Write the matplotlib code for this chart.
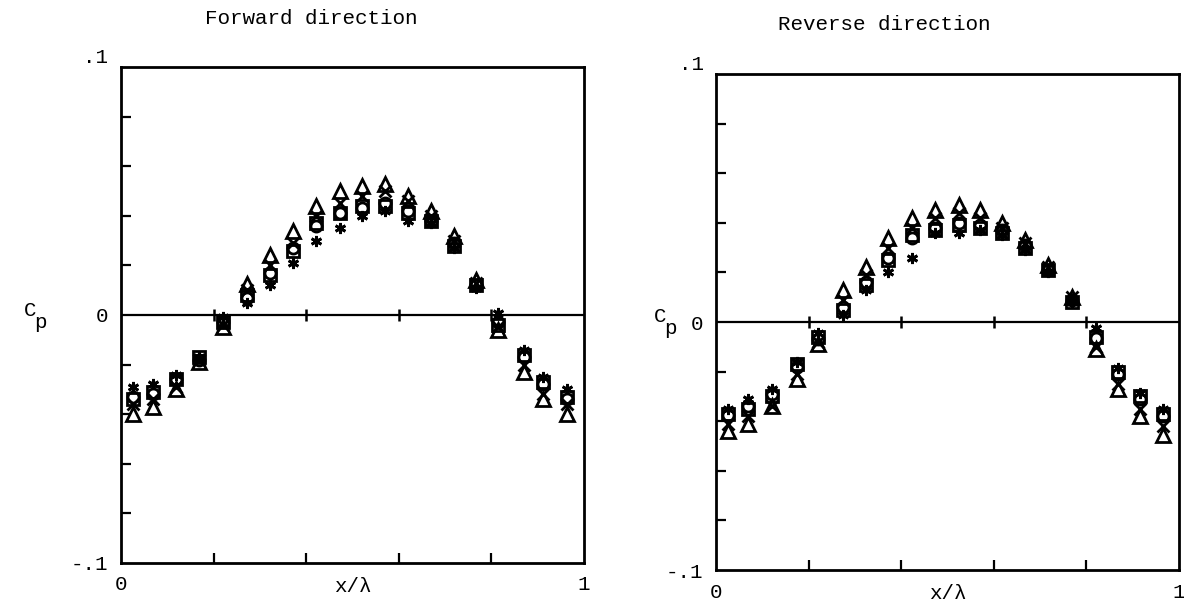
import numpy as np
import matplotlib
matplotlib.use("Agg")
import matplotlib.pyplot as plt

plt.rcParams['font.family'] = ['Liberation Mono', 'DejaVu Sans Mono']

# pressure coefficient along one wavelength, five runs per direction
x_fwd = [0.025, 0.070, 0.118, 0.168, 0.220, 0.272, 0.322, 0.372, 0.422, 0.473,
         0.520, 0.570, 0.620, 0.670, 0.720, 0.767, 0.815, 0.870, 0.912, 0.963]
fwd_tri = [-0.040, -0.037, -0.030, -0.019, -0.005, 0.0125, 0.024, 0.034, 0.044, 0.050,
           0.052, 0.053, 0.048, 0.042, 0.032, 0.014, -0.006, -0.023, -0.034, -0.040]
fwd_cross = [-0.036, -0.034, -0.029, -0.018, -0.004, 0.010, 0.020, 0.029, 0.040, 0.045,
             0.048, 0.050, 0.046, 0.040, 0.030, 0.013, -0.005, -0.020, -0.032, -0.036]
fwd_circ = [-0.033, -0.032, -0.026, -0.018, -0.003, 0.007, 0.017, 0.027, 0.036, 0.041,
            0.043, 0.045, 0.042, 0.038, 0.029, 0.012, -0.003, -0.017, -0.028, -0.034]
fwd_sq = [-0.034, -0.031, -0.026, -0.017, -0.003, 0.008, 0.016, 0.026, 0.037, 0.041,
          0.044, 0.044, 0.041, 0.038, 0.028, 0.012, -0.004, -0.016, -0.027, -0.033]
fwd_star = [-0.029, -0.028, -0.024, -0.017, -0.001, 0.005, 0.012, 0.021, 0.030, 0.035,
            0.040, 0.042, 0.038, 0.037, 0.027, 0.011, 0.001, -0.014, -0.025, -0.030]

x_rev = [0.026, 0.069, 0.120, 0.174, 0.220, 0.275, 0.324, 0.372, 0.424, 0.473,
         0.525, 0.570, 0.618, 0.668, 0.718, 0.768, 0.820, 0.868, 0.915, 0.965]
rev_tri = [-0.044, -0.041, -0.034, -0.023, -0.009, 0.013, 0.022, 0.034, 0.042, 0.045,
           0.047, 0.045, 0.040, 0.033, 0.023, 0.010, -0.011, -0.027, -0.038, -0.0455]
rev_cross = [-0.041, -0.038, -0.034, -0.021, -0.008, 0.009, 0.019, 0.030, 0.038, 0.042,
             0.044, 0.042, 0.038, 0.032, 0.022, 0.010, -0.010, -0.025, -0.035, -0.042]
rev_circ = [-0.0375, -0.034, -0.029, -0.018, -0.007, 0.006, 0.016, 0.026, 0.034, 0.038,
            0.040, 0.039, 0.037, 0.031, 0.021, 0.009, -0.0065, -0.021, -0.031, -0.038]
rev_sq = [-0.037, -0.035, -0.030, -0.017, -0.006, 0.005, 0.015, 0.025, 0.035, 0.037,
          0.039, 0.038, 0.036, 0.030, 0.021, 0.008, -0.006, -0.020, -0.030, -0.037]
rev_star = [-0.035, -0.031, -0.027, -0.016, -0.0045, 0.003, 0.013, 0.020, 0.026, 0.036,
            0.036, 0.037, 0.035, 0.029, 0.020, 0.008, -0.0025, -0.0185, -0.0285, -0.035]

markers = ['^', 'x', 'o', 's', (6, 2, 0)]
sizes = [10, 9, 8, 8, 8]
FS = 15

W, H = 1184, 612
fig = plt.figure(figsize=(W / 100, H / 100), dpi=100)


def panel(rect, title, tpos, cpos, xs, series):
    ax = fig.add_axes(rect)
    for ys, m, s in zip(series, markers, sizes):
        ax.plot(xs, ys, linestyle='none', marker=m, markersize=s,
                markerfacecolor='none', markeredgecolor='black',
                markeredgewidth=2.0, color='black', clip_on=False)
    ax.set_xlim(0, 1)
    ax.set_ylim(-0.1, 0.1)
    ax.axhline(0, color='black', lw=1.6)
    ax.plot([0.2, 0.4, 0.6, 0.8], [0, 0, 0, 0], linestyle='none',
            marker='|', markersize=9, markeredgewidth=1.8, color='black')

    ax.set_yticks([-0.1, 0, 0.1])
    ax.set_yticklabels(['-.1', '0', '.1'], fontsize=FS)
    ax.get_yticklabels()[2].set_va('bottom')
    ax.set_yticks([-0.08, -0.06, -0.04, -0.02, 0.02, 0.04, 0.06, 0.08], minor=True)
    ax.set_xticks([0, 1])
    ax.set_xticklabels(['0', '1'], fontsize=FS)
    ax.set_xticks([0.2, 0.4, 0.6, 0.8], minor=True)
    ax.tick_params(which='major', length=0, pad=9)
    ax.tick_params(which='minor', direction='in', length=7, width=1.6)
    for sp in ax.spines.values():
        sp.set_linewidth(2.0)
    ax.text(0.5, -0.047, 'x/λ', transform=ax.transAxes, ha='center',
            va='center', fontsize=FS)

    fig.text(tpos[0] / W, 1 - tpos[1] / H, title, ha='center', va='center',
             fontsize=FS)
    fig.text(cpos[0] / W, 1 - cpos[1] / H, 'C', ha='center', va='center',
             fontsize=FS)
    fig.text((cpos[0] + 10) / W, 1 - (cpos[1] + 13) / H, 'p', ha='center',
             va='center', fontsize=FS)
    return ax


panel([121 / W, 1 - 563 / H, 463 / W, 496 / H], 'Forward direction',
      (311, 18), (30, 310), x_fwd,
      [fwd_tri, fwd_cross, fwd_circ, fwd_sq, fwd_star])
panel([716 / W, 1 - 570 / H, 463 / W, 496 / H], 'Reverse direction',
      (884, 25), (660, 316), x_rev,
      [rev_tri, rev_cross, rev_circ, rev_sq, rev_star])

fig.savefig('out.png', dpi=100)
